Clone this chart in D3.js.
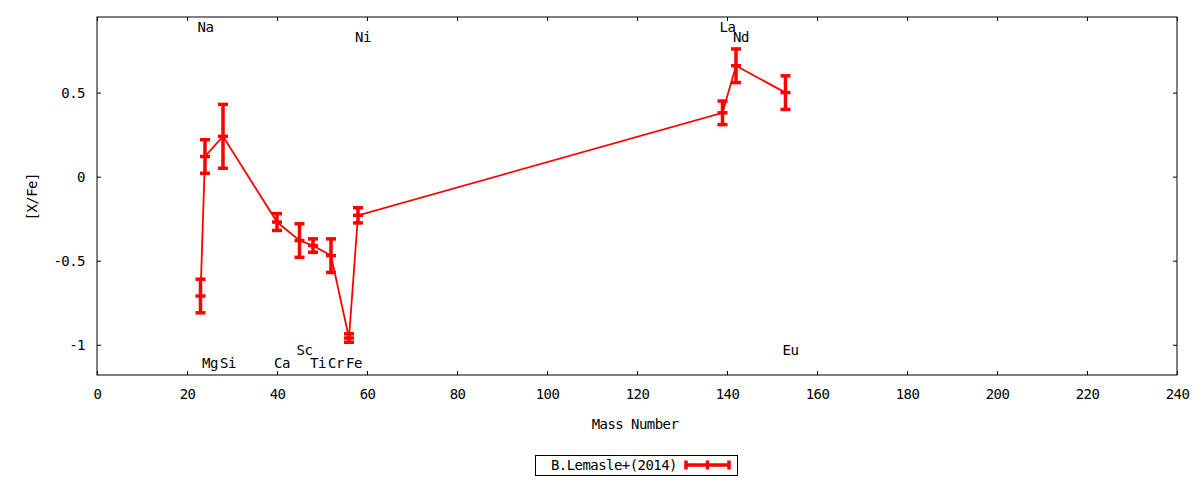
<!DOCTYPE html>
<html>
<head>
<meta charset="utf-8">
<script src="https://cdn.jsdelivr.net/npm/d3@7"></script>
<style>
  body { margin: 0; background: #fff; }
  text { font-family: "DejaVu Sans Mono", monospace; font-size: 14px; letter-spacing: -0.55px; fill: #000; }
</style>
</head>
<body>
<div id="chart"></div>
<script>
// element abundances, B.Lemasle+(2014)
const elements = ["Na", "Mg", "Si", "Ca", "Sc", "Ti", "Cr", "Fe", "Ni", "La", "Nd", "Eu"];
const massNumbers = [23, 24, 28, 40, 45, 48, 52, 56, 58, 139, 142, 153];
const xFe = [-0.71, 0.12, 0.24, -0.27, -0.38, -0.41, -0.47, -0.96, -0.23, 0.38, 0.66, 0.50];
const errors = [0.10, 0.10, 0.19, 0.05, 0.10, 0.04, 0.10, 0.025, 0.045, 0.07, 0.10, 0.10];
// y (in [X/Fe] units) where each element name is written
const labelY = [0.89, -1.11, -1.11, -1.11, -1.03, -1.11, -1.11, -1.11, 0.83, 0.89, 0.83, -1.03];

const xTicks = d3.range(0, 241, 20);
const yTicks = [-1, -0.5, 0, 0.5];

const W = 1200, H = 480;
const margin = { top: 17, right: 23, bottom: 105, left: 97 };
const width = W - margin.left - margin.right;
const height = H - margin.top - margin.bottom;

const data = elements.map((el, i) => ({
  el, x: massNumbers[i], y: xFe[i], err: errors[i], ly: labelY[i]
}));

const svg = d3.select("#chart").append("svg")
    .attr("width", W)
    .attr("height", H);

const g = svg.append("g")
    .attr("transform", `translate(${margin.left},${margin.top})`);

const x = d3.scaleLinear().domain([0, 240]).range([0, width]);
const y = d3.scaleLinear().domain([-1.18, 0.95]).range([height, 0]);

// axes with inward ticks, mirrored on top and right
const tick = 4;
g.append("g")
    .attr("transform", `translate(0,${height})`)
    .call(d3.axisBottom(x).tickValues(xTicks).tickSize(-tick).tickPadding(14).tickFormat(d3.format("d")));
g.append("g")
    .call(d3.axisTop(x).tickValues(xTicks).tickSize(-tick).tickFormat(""));
g.append("g")
    .call(d3.axisLeft(y).tickValues(yTicks).tickSize(-tick).tickPadding(12).tickFormat(d => d));
g.append("g")
    .attr("transform", `translate(${width},0)`)
    .call(d3.axisRight(y).tickValues(yTicks).tickSize(-tick).tickFormat(""));

g.selectAll(".domain").remove();
g.selectAll(".tick line").attr("stroke", "#000").attr("stroke-width", 1);
g.selectAll(".tick text").attr("font-family", null).attr("font-size", null);

g.append("rect")
    .attr("width", width)
    .attr("height", height)
    .attr("fill", "none")
    .attr("stroke", "#000")
    .attr("stroke-width", 1);

// axis titles
svg.append("text")
    .attr("x", margin.left + width / 2 - 2)
    .attr("y", 429)
    .attr("text-anchor", "middle")
    .text("Mass Number");

svg.append("text")
    .attr("transform", `translate(37,${margin.top + y(-0.12)}) rotate(-90)`)
    .attr("text-anchor", "middle")
    .text("[X/Fe]");

// element names
g.selectAll(".elabel")
    .data(data)
    .enter()
    .append("text")
    .attr("class", "elabel")
    .attr("x", d => x(d.x + 1.1))
    .attr("y", d => y(d.ly))
    .attr("dy", "0.35em")
    .attr("text-anchor", "middle")
    .text(d => d.el);

// connecting line
const red = "#ff0000";
g.append("path")
    .datum(data)
    .attr("fill", "none")
    .attr("stroke", red)
    .attr("stroke-width", 1.8)
    .attr("d", d3.line().x(d => x(d.x)).y(d => y(d.y)));

// error bars
const cap = 5;
const bars = g.selectAll(".ebar")
    .data(data)
    .enter()
    .append("g")
    .attr("class", "ebar")
    .attr("stroke", red)
    .attr("stroke-width", 3.5);

bars.append("line")
    .attr("x1", d => x(d.x)).attr("x2", d => x(d.x))
    .attr("y1", d => y(d.y - d.err)).attr("y2", d => y(d.y + d.err));
bars.append("line")
    .attr("x1", d => x(d.x) - cap).attr("x2", d => x(d.x) + cap)
    .attr("y1", d => y(d.y + d.err)).attr("y2", d => y(d.y + d.err));
bars.append("line")
    .attr("x1", d => x(d.x) - cap).attr("x2", d => x(d.x) + cap)
    .attr("y1", d => y(d.y - d.err)).attr("y2", d => y(d.y - d.err));
bars.append("line")
    .attr("x1", d => x(d.x) - cap).attr("x2", d => x(d.x) + cap)
    .attr("y1", d => y(d.y)).attr("y2", d => y(d.y));

// legend
const legend = svg.append("g");
legend.append("rect")
    .attr("x", 535.5).attr("y", 455.5)
    .attr("width", 202).attr("height", 20)
    .attr("fill", "none").attr("stroke", "#000").attr("stroke-width", 1);
legend.append("text")
    .attr("x", 677).attr("y", 465.5)
    .attr("dy", "0.35em")
    .attr("text-anchor", "end")
    .text("B.Lemasle+(2014)");
const lg = legend.append("g").attr("stroke", red).attr("stroke-width", 3.5);
lg.append("line").attr("x1", 686).attr("x2", 729).attr("y1", 465).attr("y2", 465);
[686, 707.5, 729].forEach(px => {
  lg.append("line").attr("x1", px).attr("x2", px).attr("y1", 460.5).attr("y2", 469.5);
});
</script>
</body>
</html>
